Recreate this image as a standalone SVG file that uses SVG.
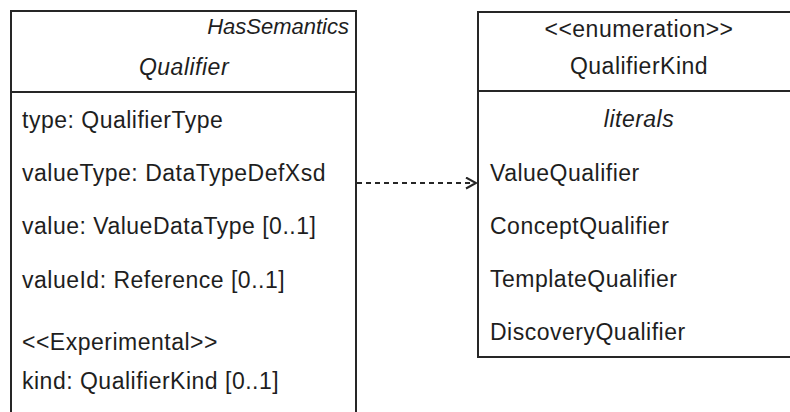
<svg xmlns="http://www.w3.org/2000/svg" width="790" height="412" viewBox="0 0 790 412">
<style>
.box{fill:#fff;stroke:#262626;stroke-width:2}
.div{stroke:#262626;stroke-width:2}
text{font-family:"Liberation Sans",Arial,sans-serif;font-size:23px;letter-spacing:0.5px;fill:#1e1e1e}
.it{font-style:italic}
.sm{font-size:22px;letter-spacing:0}
.c{text-anchor:middle}
.r{text-anchor:end}
.con{fill:none;stroke:#262626;stroke-width:2}
</style>
<defs>
<marker id="open" markerWidth="14" markerHeight="14" refX="11" refY="6" orient="auto" markerUnits="userSpaceOnUse">
<path d="M1,0.5 L11,6 L1,11.5" fill="none" stroke="#262626" stroke-width="2"/>
</marker>
</defs>
<rect width="790" height="412" fill="#fff"/>
<g id="qualifier">
<path class="box" d="M11,420 V11 H356 V420"/>
<line class="div" x1="11" y1="92" x2="356" y2="92"/>
<text class="it sm r" x="349" y="34">HasSemantics</text>
<text class="it c" x="184" y="75">Qualifier</text>
<text x="22" y="128">type: QualifierType</text>
<text x="22" y="181">valueType: DataTypeDefXsd</text>
<text x="22" y="234">value: ValueDataType [0..1]</text>
<text x="22" y="288">valueId: Reference [0..1]</text>
<text x="22" y="350">&lt;&lt;Experimental&gt;&gt;</text>
<text x="22" y="389">kind: QualifierKind [0..1]</text>
</g>
<g id="qualifierkind">
<path class="box" d="M795,12 H478 V357 H795"/>
<line class="div" x1="478" y1="91" x2="795" y2="91"/>
<text class="c" x="639" y="37">&lt;&lt;enumeration&gt;&gt;</text>
<text class="c" x="639" y="74">QualifierKind</text>
<text class="it c" x="639" y="127">literals</text>
<text x="490" y="181">ValueQualifier</text>
<text x="490" y="234">ConceptQualifier</text>
<text x="490" y="287">TemplateQualifier</text>
<text x="490" y="340">DiscoveryQualifier</text>
</g>
<g id="connectors">
<line class="con" x1="357" y1="183" x2="476" y2="183" stroke-dasharray="5,4" marker-end="url(#open)"/>
</g>
</svg>
